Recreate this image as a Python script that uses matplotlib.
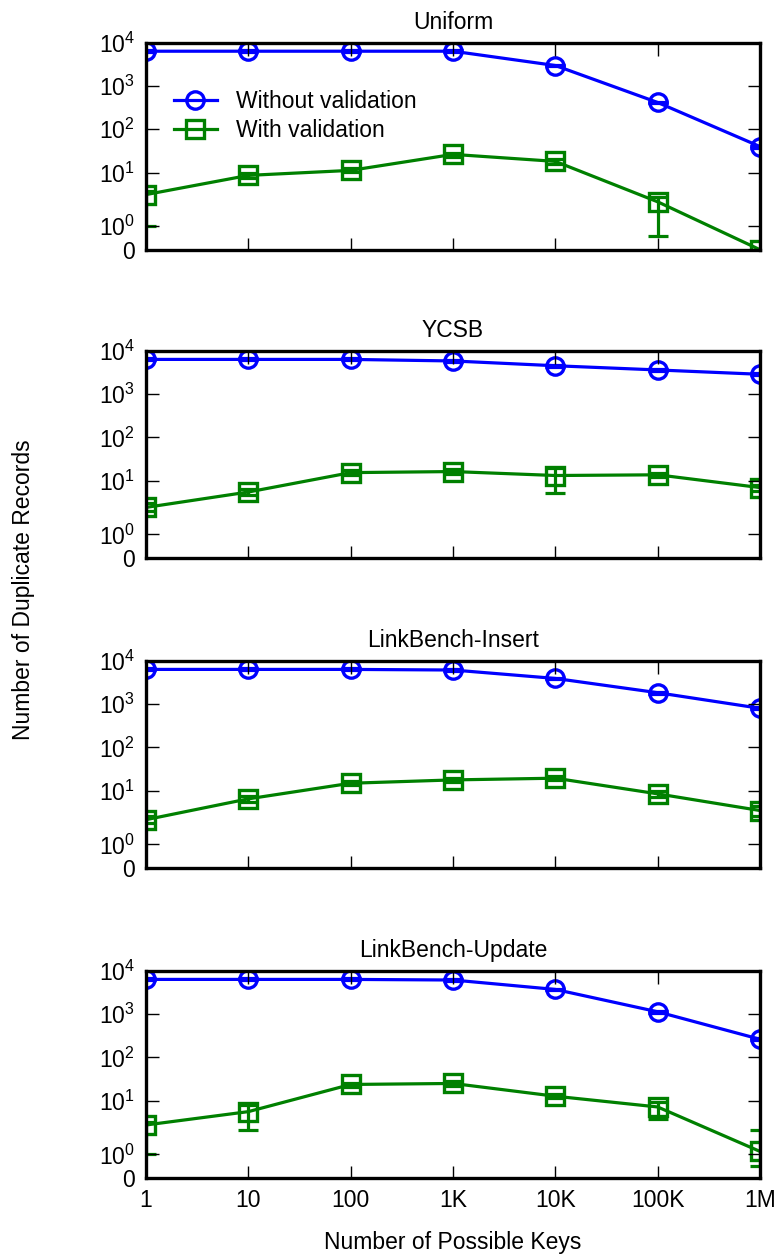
import numpy as np
import matplotlib
matplotlib.use("Agg")
import matplotlib.pyplot as plt

plt.rcParams['font.family'] = ['Liberation Sans', 'DejaVu Sans']
plt.rcParams['mathtext.fontset'] = 'custom'
plt.rcParams['mathtext.rm'] = 'Liberation Sans'
plt.rcParams['mathtext.it'] = 'Liberation Sans:italic'
plt.rcParams['mathtext.bf'] = 'Liberation Sans:bold'

keys = [1, 10, 100, 1e3, 1e4, 1e5, 1e6]
key_labels = ['1', '10', '100', '1K', '10K', '100K', '1M']
titles = ['Uniform', 'YCSB', 'LinkBench-Insert', 'LinkBench-Update']

# without validation
uniform_wo = [6300, 6300, 6300, 6300, 2950, 415, 40]
ycsb_wo = [6300, 6300, 6300, 5800, 4500, 3600, 2860]
insert_wo = [6300, 6300, 6300, 6100, 3900, 1830, 800]
update_wo = [6300, 6300, 6300, 6100, 3700, 1130, 263]

# with validation: mean, low, high
uniform_w = [3.9, 8.9, 11.3, 26.4, 18.2, 2.86, 0]
uniform_w_lo = [1.0, 8.0, 10.3, 23.5, 16.0, 0.6, 0]
uniform_w_hi = [4.5, 9.8, 12.5, 29.0, 20.5, 3.5, 0]

ycsb_w = [3.2, 6.2, 15.5, 16.4, 13.3, 13.8, 7.5]
ycsb_w_lo = [2.7, 5.4, 13.5, 14.3, 6.0, 12.5, 6.6]
ycsb_w_hi = [3.8, 7.0, 17.5, 18.8, 20.0, 15.0, 8.5]

insert_w = [2.9, 7.1, 15.0, 17.9, 19.6, 8.8, 4.3]
insert_w_lo = [2.5, 6.3, 13.5, 16.3, 17.5, 7.6, 3.4]
insert_w_hi = [3.4, 7.9, 16.5, 19.5, 22.0, 10.0, 5.2]

update_w = [3.55, 6.3, 23.9, 25.2, 12.8, 7.7, 1.14]
update_w_lo = [1.0, 2.9, 21.0, 22.5, 11.5, 4.6, 0.5]
update_w_hi = [4.0, 8.5, 26.5, 28.0, 14.3, 9.5, 2.9]

panels = [
    (uniform_wo, uniform_w, uniform_w_lo, uniform_w_hi),
    (ycsb_wo, ycsb_w, ycsb_w_lo, ycsb_w_hi),
    (insert_wo, insert_w, insert_w_lo, insert_w_hi),
    (update_wo, update_w, update_w_lo, update_w_hi),
]

# y axis: 0..1 linear, 1..10 stretched, log above 10
A, B = 0.54, 1.235


def fwd(y):
    y = np.asarray(y, dtype=float)
    ys = np.maximum(y, 1e-12)
    return np.where(y <= 1, A * y,
                    np.where(y <= 10, A + B * np.log10(ys),
                             A + B - 1 + np.log10(ys)))


def inv(p):
    p = np.asarray(p, dtype=float)
    return np.where(p <= A, p / A,
                    np.where(p <= A + B, 10 ** ((p - A) / B),
                             10 ** (p - A - B + 1)))


W, H = 780, 1255
fig = plt.figure(figsize=(W / 100, H / 100), dpi=100)
tops = [42.5, 350.7, 660.7, 970.7]
ax_h = 207.2
left, right = 146, 760
blue, green = '#0000ff', '#008000'
lw, mew = 2.3, 2.4

for i, (wo, w, lo, hi) in enumerate(panels):
    ax = fig.add_axes([left / W, 1 - (tops[i] + ax_h) / H, (right - left) / W, ax_h / H])
    ax.set_axisbelow(False)
    ax.set_xscale('log')
    ax.set_yscale('function', functions=(fwd, inv))
    ax.set_xlim(1, 1e6)
    ax.set_ylim(0, 1e4)

    wo = np.array(wo, dtype=float)
    w = np.array(w, dtype=float)
    yerr_wo = [wo * 0.05, wo * 0.05]
    yerr_w = [w - np.array(lo), np.array(hi) - w]

    ax.errorbar(keys, wo, yerr=yerr_wo, fmt='none', ecolor=blue, capsize=7.5,
                capthick=lw, elinewidth=lw)
    ax.errorbar(keys, w, yerr=yerr_w, fmt='none', ecolor=green, capsize=7.5,
                capthick=lw, elinewidth=lw)
    ax.plot(keys, wo, color=blue, lw=lw, marker='o', ms=12.5, mfc='none',
            mew=mew, label='Without validation')
    ax.plot(keys, w, color=green, lw=lw, marker='s', ms=13.5, mfc='none',
            mew=mew, label='With validation')

    ax.set_yticks([0, 1, 10, 100, 1000, 10000])
    ax.set_yticklabels(['0', r'$\mathregular{10^{0}}$', r'$\mathregular{10^{1}}$',
                        r'$\mathregular{10^{2}}$', r'$\mathregular{10^{3}}$',
                        r'$\mathregular{10^{4}}$'])
    ax.set_xticks(keys)
    ax.xaxis.set_minor_locator(matplotlib.ticker.NullLocator())
    ax.yaxis.set_minor_locator(matplotlib.ticker.NullLocator())
    if i == 3:
        ax.set_xticklabels(key_labels)
        ax.set_xlabel('Number of Possible Keys', fontsize=16.5, labelpad=14)
    else:
        ax.set_xticklabels([])
    ax.tick_params(direction='in', length=9, width=1, top=True, right=True,
                   labelsize=16.5, pad=8)
    for s in ax.spines.values():
        s.set_linewidth(2.4)
    ax.set_title(titles[i], fontsize=16.5, pad=10)

    if i == 0:
        ax.legend(loc='upper left', bbox_to_anchor=(0.045, 0.77), frameon=False,
                  fontsize=16.5, handlelength=1.9, handletextpad=0.8,
                  labelspacing=0.25, borderpad=0, borderaxespad=0)

fig.text(24 / W, 1 - 590 / H, 'Number of Duplicate Records', rotation=90,
         ha='center', va='center', fontsize=16.5)

fig.savefig('out.png', dpi=100)
